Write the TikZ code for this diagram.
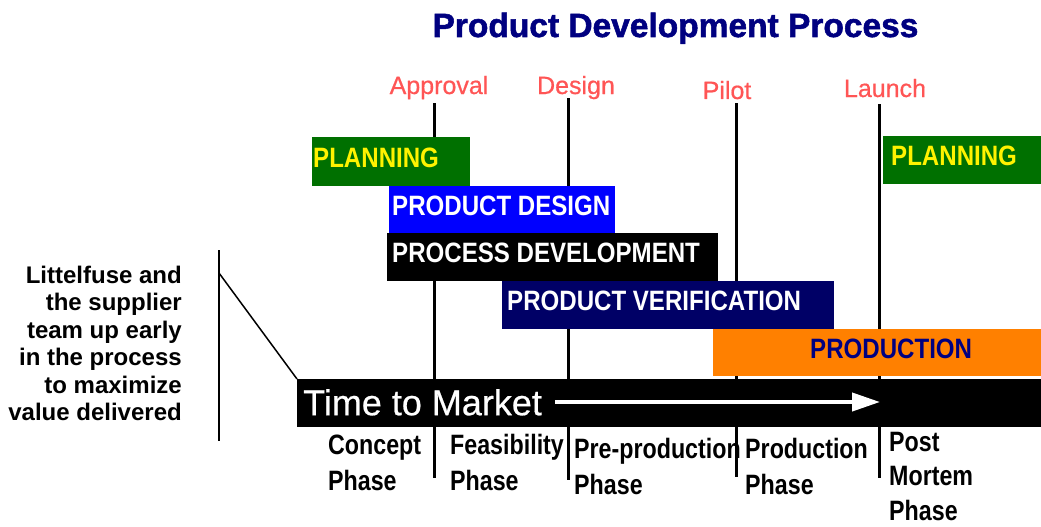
\documentclass[tikz,border=0pt]{standalone}
\usepackage{fontspec}
\setmainfont{Liberation Sans}
\newfontfamily\barfont[FakeStretch=0.86]{Liberation Sans}
\newfontfamily\phasefont[FakeStretch=0.83]{Liberation Sans}
\newfontfamily\titlefont[FakeBold=1.6]{Liberation Sans Bold}
\newfontfamily\milefont[FakeBold=0.6]{Liberation Sans}
\usetikzlibrary{arrows.meta}
\definecolor{titlenavy}{RGB}{0,0,128}
\definecolor{milered}{RGB}{255,85,85}
\definecolor{plangreen}{RGB}{0,112,0}
\definecolor{designblue}{RGB}{0,0,255}
\definecolor{verifnavy}{RGB}{0,0,102}
\definecolor{prodorange}{RGB}{255,128,0}
\tikzset{
  bar/.style={anchor=north west, inner sep=0pt},
  bartext/.style={anchor=west, inner xsep=3pt, inner ysep=0pt, text height=20pt, text depth=9pt,
    font=\barfont\bfseries\fontsize{28}{30}\selectfont},
  milestone/.style={line width=3pt},
  milelabel/.style={anchor=base, inner sep=0pt, text=milered, font=\milefont\fontsize{25}{28}\selectfont},
  phase/.style={anchor=north west, inner sep=0pt, align=left,
    font=\phasefont\bfseries\fontsize{28}{36}\selectfont}
}
\begin{document}
\begin{tikzpicture}[x=1pt,y=-1pt]
\useasboundingbox (0,0) rectangle (1041,527);
% title
\node[anchor=base, inner sep=0pt, text=titlenavy, font=\titlefont\fontsize{33.5}{36}\selectfont] (title) at (675.5,37) {Product Development Process};
% milestones
\node[milelabel] (approval) at (439,94) {Approval};
\node[milelabel] (design) at (576,94) {Design};
\node[milelabel] (pilot) at (727,99) {Pilot};
\node[milelabel] (launch) at (885,97) {Launch};
\coordinate (apptop) at (434,103);
\coordinate (appbot) at (434,478);
\coordinate (destop) at (568,98);
\coordinate (desbot) at (568,480);
\coordinate (piltop) at (736,103);
\coordinate (pilbot) at (736,477);
\coordinate (lautop) at (879,104);
\coordinate (laubot) at (879,478);
\draw[milestone] (apptop) -- (appbot);
\draw[milestone] (destop) -- (desbot);
\draw[milestone] (piltop) -- (pilbot);
\draw[milestone] (lautop) -- (laubot);
% activity bars
\node[bar, fill=plangreen, minimum width=158, minimum height=49] (plan1) at (312,137) {};
\node[bartext, inner xsep=1pt, text=yellow] (plan1text) at (plan1.west) {PLANNING};
\node[bar, fill=designblue, minimum width=226, minimum height=47] (prodesign) at (389,186) {};
\node[bartext, text=white] (prodesigntext) at (prodesign.west) {PRODUCT DESIGN};
\node[bar, fill=black, minimum width=331, minimum height=48] (procdev) at (387,233) {};
\node[bartext, inner xsep=5pt, text=white] (procdevtext) at (procdev.west) {PROCESS DEVELOPMENT};
\node[bar, fill=verifnavy, minimum width=332, minimum height=48] (verif) at (502,281) {};
\node[bartext, inner xsep=5pt, text=white] (veriftext) at (verif.west) {PRODUCT VERIFICATION};
\node[bar, fill=prodorange, minimum width=328, minimum height=47] (production) at (713,329) {};
\node[bartext, inner xsep=97pt, text=titlenavy] (productiontext) at (production.west) {PRODUCTION};
\node[bar, fill=plangreen, minimum width=158, minimum height=48] (plan2) at (883,136) {};
\node[bartext, inner xsep=8pt, text=yellow] (plan2text) at (plan2.west) {PLANNING};
% time to market
\node[bar, fill=black, minimum width=744, minimum height=48] (ttm) at (297,379) {};
\node[anchor=west, inner xsep=6pt, inner ysep=0pt, text height=27pt, text depth=3pt, text=white,
  font=\milefont\fontsize{36}{40}\selectfont] (ttmtext) at (ttm.west) {Time to Market};
\coordinate (ttmstart) at (555,402);
\coordinate (ttmend) at (880,402);
\draw[white, line width=4pt, -{Triangle[length=28pt,width=18pt]}] (ttmstart) -- (ttmend);
% phases
\node[phase] (concept) at (328,435) {Concept\\Phase};
\node[phase] (feasib) at (450,434) {Feasibility\\Phase};
\node[phase] (preprod) at (574,438) {Pre-production\\Phase};
\node[phase] (prodphase) at (745,438) {Production\\Phase};
\node[phase, font=\phasefont\bfseries\fontsize{28}{34.5}\selectfont] (postmortem) at (889,432) {Post\\Mortem\\Phase};
% team note
\node[anchor=north east, inner sep=0pt, align=right, font=\bfseries\fontsize{24}{27.5}\selectfont] (note) at (182,265.5)
  {Littelfuse and\\the supplier\\team up early\\in the process\\to maximize\\value delivered};
\coordinate (notetop) at (219,250);
\coordinate (notebot) at (219,441);
\coordinate (notejoin) at (219,273);
\draw[line width=2pt] (notetop) -- (notebot);
\draw[line width=1.5pt] (notejoin) -- (ttm.north west);
\end{tikzpicture}
\end{document}
